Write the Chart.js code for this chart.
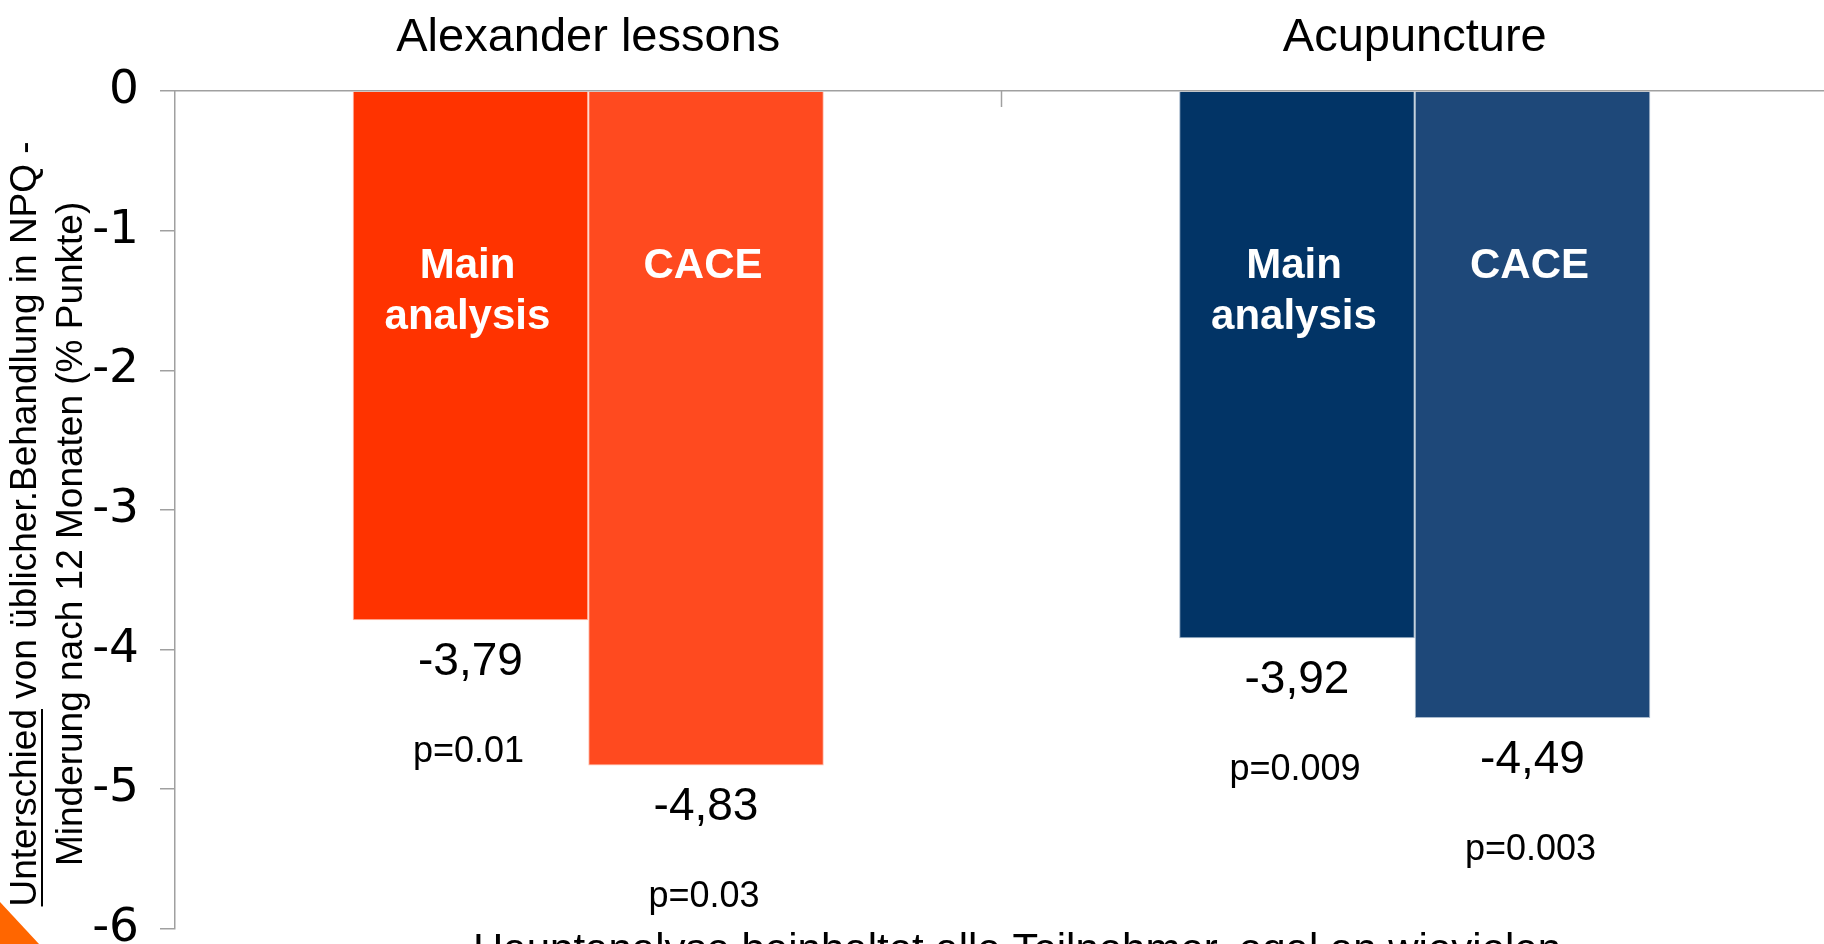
<!DOCTYPE html>
<html><head><meta charset="utf-8">
<script src="https://cdn.jsdelivr.net/npm/chart.js@4.4.1/dist/chart.umd.min.js"></script>
<style>
html,body{margin:0;padding:0;background:#fff;overflow:hidden;width:1824px;height:944px}
canvas{display:block}
</style></head>
<body>
<canvas id="c" width="1830" height="978" style="width:1830px;height:978px"></canvas>
<script>
const categories = ['Alexander lessons', 'Acupuncture'];
const seriesNames = ['Main analysis', 'CACE'];
const mainValues = [-3.79, -3.92];
const caceValues = [-4.83, -4.49];
const mainPValues = ['p=0.01', 'p=0.009'];
const cacePValues = ['p=0.03', 'p=0.003'];
const yTicks = [0, -1, -2, -3, -4, -5, -6];
const yTitleLine1 = 'Unterschied von üblicher.Behandlung in NPQ -';
const yTitleUnderlined = 'Unterschied';
const yTitleLine2 = 'Minderung nach 12 Monaten (% Punkte)';
const footnote = 'Hauptanalyse beinhaltet alle Teilnehmer, egal an wievielen';

const SANS = '"Liberation Sans", Arial, sans-serif';
const pLabels = [mainPValues, cacePValues];
const fmt = v => v.toFixed(2).replace('.', ',');

const annot = {
  id: 'annot',
  afterDatasetsDraw(chart) {
    const ctx = chart.ctx;
    const xs = chart.scales.x, ys = chart.scales.y;
    const y0 = ys.getPixelForValue(0);
    ctx.save();
    ctx.textAlign = 'center';
    chart.data.datasets.forEach((ds, di) => {
      const meta = chart.getDatasetMeta(di);
      const lines = seriesNames[di].split(' ');
      meta.data.forEach((bar, i) => {
        const v = ds.data[i];
        const yEnd = ys.getPixelForValue(v);
        ctx.fillStyle = '#ffffff';
        ctx.font = 'bold 42px ' + SANS;
        ctx.textBaseline = 'alphabetic';
        lines.forEach((ln, li) => ctx.fillText(ln, bar.x - 3, y0 + 187 + li * 51));
        ctx.fillStyle = '#000000';
        ctx.textBaseline = 'middle';
        ctx.font = '46px ' + SANS;
        ctx.fillText(fmt(v), bar.x, yEnd + 42);
        ctx.font = '36px ' + SANS;
        ctx.fillText(pLabels[di][i], bar.x - 2, yEnd + 132);
      });
    });
    const xb = (xs.getPixelForValue(0) + xs.getPixelForValue(1)) / 2;
    ctx.strokeStyle = '#a0a0a0';
    ctx.lineWidth = 1.5;
    ctx.beginPath();
    ctx.moveTo(xb, y0);
    ctx.lineTo(xb, y0 + 16);
    ctx.stroke();
    ctx.restore();
  },
  afterDraw(chart) {
    const ctx = chart.ctx;
    const ys = chart.scales.y;
    const yMid = (ys.top + ys.bottom) / 2;
    ctx.save();
    ctx.fillStyle = '#000000';
    ctx.font = '37px ' + SANS;
    ctx.textBaseline = 'alphabetic';
    ctx.save();
    ctx.translate(36, yMid + 14);
    ctx.rotate(-Math.PI / 2);
    ctx.textAlign = 'center';
    ctx.fillText(yTitleLine1, 0, 0);
    const w1 = ctx.measureText(yTitleLine1).width;
    const wu = ctx.measureText(yTitleUnderlined).width;
    ctx.fillRect(-w1 / 2, 5, wu, 2);
    ctx.restore();
    ctx.save();
    ctx.translate(82, yMid + 24);
    ctx.rotate(-Math.PI / 2);
    ctx.textAlign = 'center';
    ctx.fillText(yTitleLine2, 0, 0);
    ctx.restore();
    ctx.font = '42px ' + SANS;
    ctx.textAlign = 'left';
    ctx.fillText(footnote, 473, 963);
    ctx.fillStyle = '#ff6600';
    ctx.beginPath();
    ctx.moveTo(0, 902);
    ctx.lineTo(39, 944);
    ctx.lineTo(0, 944);
    ctx.closePath();
    ctx.fill();
    ctx.restore();
  }
};

new Chart(document.getElementById('c'), {
  type: 'bar',
  data: {
    labels: categories,
    datasets: [
      {
        label: seriesNames[0], data: mainValues,
        backgroundColor: ['#ff3300', '#023466'],
        borderColor: ['#ffb8a4', '#9cb0c6'],
        borderWidth: 1, borderSkipped: 'start',
        categoryPercentage: 0.57, barPercentage: 1
      },
      {
        label: seriesNames[1], data: caceValues,
        backgroundColor: ['#ff4a1f', '#1e4879'],
        borderColor: ['#ffc2b2', '#a9bacd'],
        borderWidth: 1, borderSkipped: 'start',
        categoryPercentage: 0.57, barPercentage: 1
      }
    ]
  },
  options: {
    responsive: false,
    animation: false,
    devicePixelRatio: 1,
    layout: { padding: { left: 0, top: 0, right: 2, bottom: 16 } },
    plugins: { legend: { display: false }, tooltip: { enabled: false }, title: { display: false } },
    scales: {
      x: {
        position: 'top',
        offset: true,
        grid: { display: false, drawTicks: false },
        border: { display: true, color: '#a0a0a0', width: 1.5 },
        ticks: { padding: 25, color: '#000', maxRotation: 0, autoSkip: false,
                 font: { family: SANS, size: 47 } },
        afterFit: s => { s.height = 91; }
      },
      y: {
        min: -6, max: 0,
        afterBuildTicks: s => { s.ticks = yTicks.map(v => ({ value: v })); },
        ticks: { padding: 21, color: '#000', font: { family: '"DejaVu Sans", sans-serif', size: 47 } },
        grid: { drawOnChartArea: false, drawTicks: true, tickLength: 15, color: '#a0a0a0', lineWidth: 1.5 },
        border: { display: true, color: '#a0a0a0', width: 1.5 },
        afterFit: s => { s.width = 175; }
      }
    }
  },
  plugins: [annot]
});
</script>
</body></html>
